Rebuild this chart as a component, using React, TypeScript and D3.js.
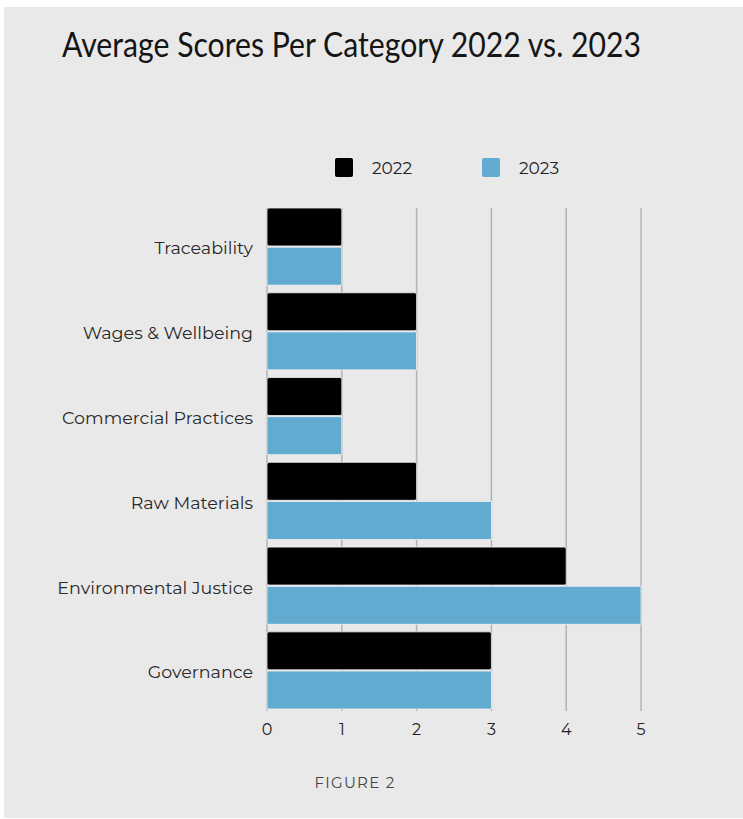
import React from "react";
import * as d3 from "d3";

const categories = [
  "Traceability",
  "Wages & Wellbeing",
  "Commercial Practices",
  "Raw Materials",
  "Environmental Justice",
  "Governance",
];
const seriesNames = ["2022", "2023"];
const values2022 = [1, 2, 1, 2, 4, 3];
const values2023 = [1, 2, 1, 3, 5, 3];
const xTicks = [0, 1, 2, 3, 4, 5];
const colors = ["#000000", "#60abcf"];

const W = 743;
const H = 819;

export default function App() {
  const x = d3.scaleLinear().domain([0, 5]).range([267, 641]);
  const y = d3
    .scaleBand<string>()
    .domain(categories)
    .range([208, 709])
    .paddingInner(0.09)
    .paddingOuter(0);
  const ys = d3
    .scaleBand<string>()
    .domain(seriesNames)
    .range([0, y.bandwidth()])
    .paddingInner(0.03);
  const series = [values2022, values2023];
  const labelFont = "'Montserrat', 'Lato', 'Open Sans', sans-serif";

  return (
    <div style={{ position: "fixed", left: 0, top: 0 }}>
      <svg width={W} height={H} style={{ display: "block" }}>
        <rect x={0} y={0} width={W} height={H} fill="#ffffff" />
        <rect x={4} y={7} width={W - 4} height={H - 8} fill="#e9e9e9" />
        <text
          x={62}
          y={57}
          fontFamily="'Lato', 'Open Sans', sans-serif"
          fontSize={34}
          fill="#151515"
          textLength={579}
          lengthAdjust="spacingAndGlyphs"
        >
          Average Scores Per Category 2022 vs. 2023
        </text>

        {/* legend */}
        {seriesNames.map((s, i) => {
          const lx = [335, 482][i];
          return (
            <g key={s}>
              <rect x={lx} y={158} width={18} height={19} rx={2} fill={colors[i]} />
              <text
                x={lx + 37}
                y={174}
                fontFamily={labelFont}
                fontSize={17}
                fill="#222"
              >
                {s}
              </text>
            </g>
          );
        })}

        {/* gridlines */}
        {xTicks.map((t) => (
          <line
            key={t}
            x1={x(t)}
            x2={x(t)}
            y1={208}
            y2={711}
            stroke="#b3b3b3"
            strokeWidth={1.5}
          />
        ))}

        {/* bars */}
        {categories.map((c, ci) => (
          <g key={c} transform={`translate(0,${y(c)})`}>
            {seriesNames.map((s, si) => (
              <rect
                key={s}
                x={x(0)}
                y={ys(s)}
                width={x(series[si][ci]) - x(0)}
                height={ys.bandwidth()}
                rx={si === 0 ? 2 : 0}
                fill={colors[si]}
                stroke="#f2f2f2"
                strokeWidth={0.8}
              />
            ))}
          </g>
        ))}

        {/* category labels */}
        {categories.map((c) => (
          <text
            key={c}
            x={253}
            y={(y(c) as number) + y.bandwidth() / 2}
            dy="0.45em"
            textAnchor="end"
            fontFamily={labelFont}
            fontSize={17.5}
            fill="#2a2a2a"
          >
            {c}
          </text>
        ))}

        {/* x tick labels */}
        {xTicks.map((t) => (
          <text
            key={t}
            x={x(t)}
            y={735}
            textAnchor="middle"
            fontFamily={labelFont}
            fontSize={16}
            fill="#222"
          >
            {t}
          </text>
        ))}

        <text
          x={355}
          y={788}
          textAnchor="middle"
          fontFamily={labelFont}
          fontSize={15}
          letterSpacing={1.3}
          fill="#444"
        >
          FIGURE 2
        </text>
      </svg>
    </div>
  );
}
